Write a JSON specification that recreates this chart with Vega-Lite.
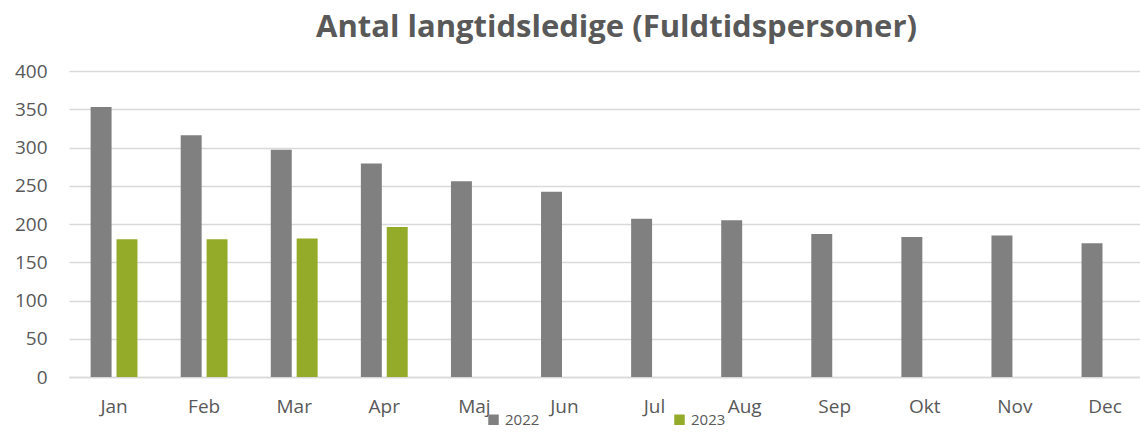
{
  "$schema": "https://vega.github.io/schema/vega-lite/v6.json",
  "autosize": "none",
  "width": 1071,
  "height": 306,
  "padding": {"left": 69, "top": 71, "right": 0, "bottom": 55},
  "background": "white",
  "config": {"font": "Open Sans", "view": {"stroke": null}},
  "title": {
    "text": "Antal langtidsledige (Fuldtidspersoner)",
    "fontSize": 31,
    "fontWeight": "bold",
    "font": "Open Sans",
    "color": "#595959",
    "anchor": "middle",
    "dx": 12,
    "offset": 18
  },
  "data": {
    "values": [
      {"month": "Jan", "year": "2022", "value": 353},
      {"month": "Feb", "year": "2022", "value": 316},
      {"month": "Mar", "year": "2022", "value": 297},
      {"month": "Apr", "year": "2022", "value": 279},
      {"month": "Maj", "year": "2022", "value": 256},
      {"month": "Jun", "year": "2022", "value": 242},
      {"month": "Jul", "year": "2022", "value": 207},
      {"month": "Aug", "year": "2022", "value": 205},
      {"month": "Sep", "year": "2022", "value": 187},
      {"month": "Okt", "year": "2022", "value": 183},
      {"month": "Nov", "year": "2022", "value": 185},
      {"month": "Dec", "year": "2022", "value": 175},
      {"month": "Jan", "year": "2023", "value": 180},
      {"month": "Feb", "year": "2023", "value": 180},
      {"month": "Mar", "year": "2023", "value": 181},
      {"month": "Apr", "year": "2023", "value": 196}
    ]
  },
  "mark": {"type": "bar"},
  "encoding": {
    "x": {
      "field": "month",
      "type": "nominal",
      "sort": ["Jan", "Feb", "Mar", "Apr", "Maj", "Jun", "Jul", "Aug", "Sep", "Okt", "Nov", "Dec"],
      "scale": {"range": [0, 1081], "paddingInner": 0.48, "paddingOuter": 0.24},
      "axis": {
        "title": null,
        "labelAngle": 0,
        "ticks": false,
        "domain": true,
        "domainColor": "#d9d9d9",
        "domainWidth": 1.5,
        "labelFontSize": 19,
        "labelColor": "#595959",
        "labelPadding": 20
      }
    },
    "xOffset": {
      "field": "year",
      "type": "nominal",
      "scale": {"paddingInner": 0.19, "paddingOuter": 0}
    },
    "y": {
      "field": "value",
      "type": "quantitative",
      "scale": {"domain": [0, 400], "nice": false},
      "axis": {
        "title": null,
        "values": [0, 50, 100, 150, 200, 250, 300, 350, 400],
        "grid": true,
        "gridColor": "#d9d9d9",
        "gridWidth": 1.5,
        "domain": false,
        "ticks": false,
        "labelFontSize": 19,
        "labelColor": "#595959",
        "labelPadding": 22
      }
    },
    "color": {
      "field": "year",
      "type": "nominal",
      "scale": {"domain": ["2022", "2023"], "range": ["#808080", "#94AB29"]},
      "legend": {
        "title": null,
        "orient": "none",
        "direction": "horizontal",
        "legendX": 417,
        "legendY": 341,
        "symbolType": "square",
        "symbolSize": 110,
        "symbolStrokeWidth": 0,
        "labelFontSize": 15,
        "labelColor": "#595959",
        "columnPadding": 132
      }
    }
  }
}
